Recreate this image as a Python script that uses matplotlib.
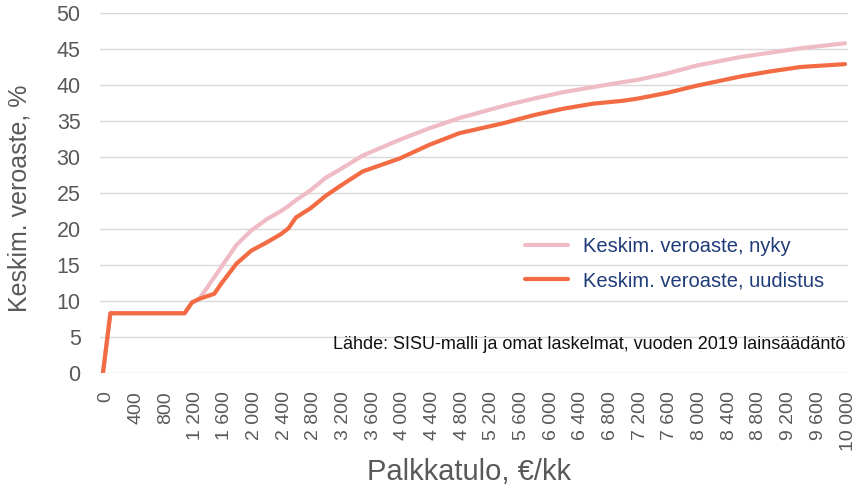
import numpy as np
import matplotlib
matplotlib.use("Agg")
from matplotlib import pyplot as plt
from matplotlib.ticker import FuncFormatter
from matplotlib.transforms import ScaledTranslation

# palkkatulo (€/kk) and keskim. veroaste (%)
tulo = [0, 100, 1100, 1200, 1300, 1500, 1600, 1800, 2000, 2200, 2400, 2500,
        2600, 2800, 3000, 3200, 3500, 4000, 4400, 4800, 5400, 5800, 6200,
        6600, 7000, 7200, 7600, 8000, 8600, 9000, 9400, 10000]
nyky = [0, 8.3, 8.3, 9.8, 10.3, 13.3, 14.8, 17.8, 19.8, 21.3, 22.5, 23.2,
        24.0, 25.4, 27.1, 28.3, 30.2, 32.4, 34.0, 35.4, 37.1, 38.1, 39.0,
        39.7, 40.4, 40.7, 41.6, 42.7, 43.9, 44.5, 45.1, 45.8]
uudistus = [0, 8.3, 8.3, 9.8, 10.3, 11.0, 12.5, 15.2, 17.0, 18.1, 19.3, 20.1,
            21.6, 22.9, 24.6, 26.0, 28.0, 29.8, 31.7, 33.3, 34.7, 35.8, 36.7,
            37.4, 37.8, 38.1, 38.9, 39.9, 41.2, 41.9, 42.5, 42.9]
xticks = list(range(0, 10001, 400))
yticks = list(range(0, 51, 5))

gray = '#595959'
plt.rcParams['font.family'] = ['Liberation Sans', 'DejaVu Sans']

fig = plt.figure(figsize=(8.59, 4.91), dpi=100)
ax = fig.add_axes([100/859, 118/491, 748/859, 360/491])

ax.plot(tulo, nyky, color='#efbcc6', lw=3, solid_capstyle='round',
        label='Keskim. veroaste, nyky')
ax.plot(tulo, uudistus, color='#f26b43', lw=3, solid_capstyle='round',
        label='Keskim. veroaste, uudistus')

ax.set_xlim(-40, 10040)
ax.set_ylim(0, 50)
ax.set_yticks(yticks)
ax.set_xticks(xticks)
ax.xaxis.set_major_formatter(FuncFormatter(lambda v, p: f'{int(v):,}'.replace(',', ' ')))
ax.tick_params(axis='x', rotation=90, length=0, labelsize=14, labelcolor=gray, pad=13)
ax.tick_params(axis='y', length=0, labelsize=15.5, labelcolor=gray, pad=14)
# labels sit a few pixels right of the data points in the original
shift = ScaledTranslation(3/100, 0, fig.dpi_scale_trans)
for lab in ax.get_xticklabels():
    lab.set_transform(lab.get_transform() + shift)
ax.grid(axis='y', color='#d9d9d9', lw=1)
ax.set_axisbelow(True)
for s in ax.spines.values():
    s.set_visible(False)

ax.set_ylabel('Keskim. veroaste, %', fontsize=18, color=gray)
ax.yaxis.set_label_coords(-0.091, 0.486)
ax.set_xlabel('Palkkatulo, €/kk', fontsize=21, color=gray)
ax.xaxis.set_label_coords(0.493, -0.236)

leg = ax.legend(loc='upper left', bbox_to_anchor=(0.568, 0.378), frameon=False,
                borderaxespad=0, borderpad=0,
                handlelength=2.15, handletextpad=0.75, labelspacing=0.75,
                prop={'size': 14.5})
for t in leg.get_texts():
    t.set_color('#1f3c78')

ax.text(0.996, 0.078, 'Lähde: SISU-malli ja omat laskelmat, vuoden 2019 lainsäädäntö',
        transform=ax.transAxes, ha='right', va='center', fontsize=13,
        color='#111111')

fig.savefig('out.png', dpi=100)
